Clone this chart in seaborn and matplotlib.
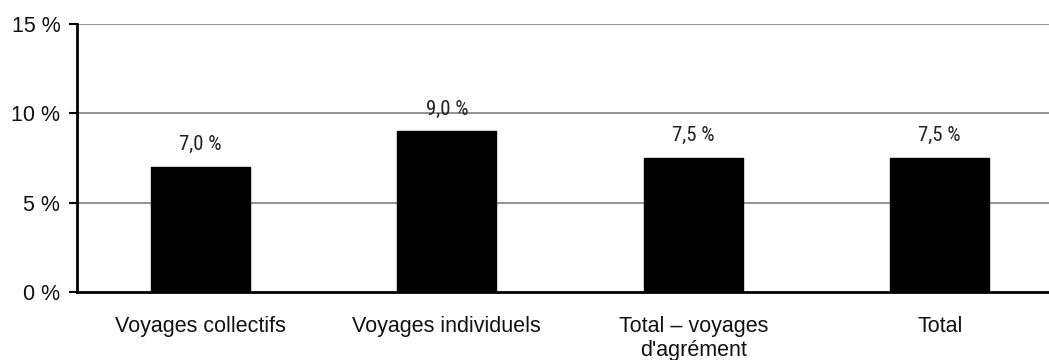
import matplotlib
matplotlib.use("Agg")
import matplotlib.pyplot as plt
import seaborn as sns
from matplotlib.ticker import FixedLocator

categories = ["Voyages collectifs", "Voyages individuels", "Total – voyages\nd'agrément", "Total"]
values = [7.0, 9.0, 7.5, 7.5]
value_labels = ["7,0 %", "9,0 %", "7,5 %", "7,5 %"]
y_ticks = [0, 5, 10, 15]
y_tick_labels = ["0 %", "5 %", "10 %", "15 %"]

sns.set_style("white")
plt.rcParams["font.family"] = ["Liberation Sans", "DejaVu Sans"]

fig = plt.figure(figsize=(10.49, 3.6), dpi=100)
# axes run past the right edge of the figure, so the last category is cut off
ax = fig.add_axes([77 / 1049, 68 / 360, (1063 - 77) / 1049, 268 / 360])

sns.barplot(x=categories, y=values, color="black", width=0.4, saturation=1,
            edgecolor="black", ax=ax, zorder=3)

ax.set_xlim(-0.5, 3.5)
ax.set_ylim(0, 15)
ax.set_yticks(y_ticks)
ax.set_yticklabels(y_tick_labels, fontsize=15.5, color="#111111")
for y in y_ticks[1:]:
    ax.axhline(y, color="#808080", lw=1.2, zorder=1)

ax.set_xlabel("")
ax.set_ylabel("")
ax.tick_params(axis="x", which="major", length=0, labelsize=15.5, labelcolor="#111111", pad=17)
ax.xaxis.set_minor_locator(FixedLocator([0.5, 1.5, 2.5]))
ax.tick_params(axis="x", which="minor", length=5, width=1.5, color="black", direction="out")
ax.tick_params(axis="y", length=6, width=1.5, color="black", direction="out", left=True, pad=6)

for side in ["top", "right"]:
    ax.spines[side].set_visible(False)
for side in ["left", "bottom"]:
    ax.spines[side].set_color("black")
    ax.spines[side].set_linewidth(2)
    ax.spines[side].set_zorder(4)

for i, (v, lab) in enumerate(zip(values, value_labels)):
    ax.annotate(lab, (i, v), xytext=(0, 12), textcoords="offset points",
                ha="center", va="baseline", fontsize=15,
                family=["Roboto Condensed", "Liberation Sans"], color="#222222")

fig.savefig("out.png", dpi=100)
